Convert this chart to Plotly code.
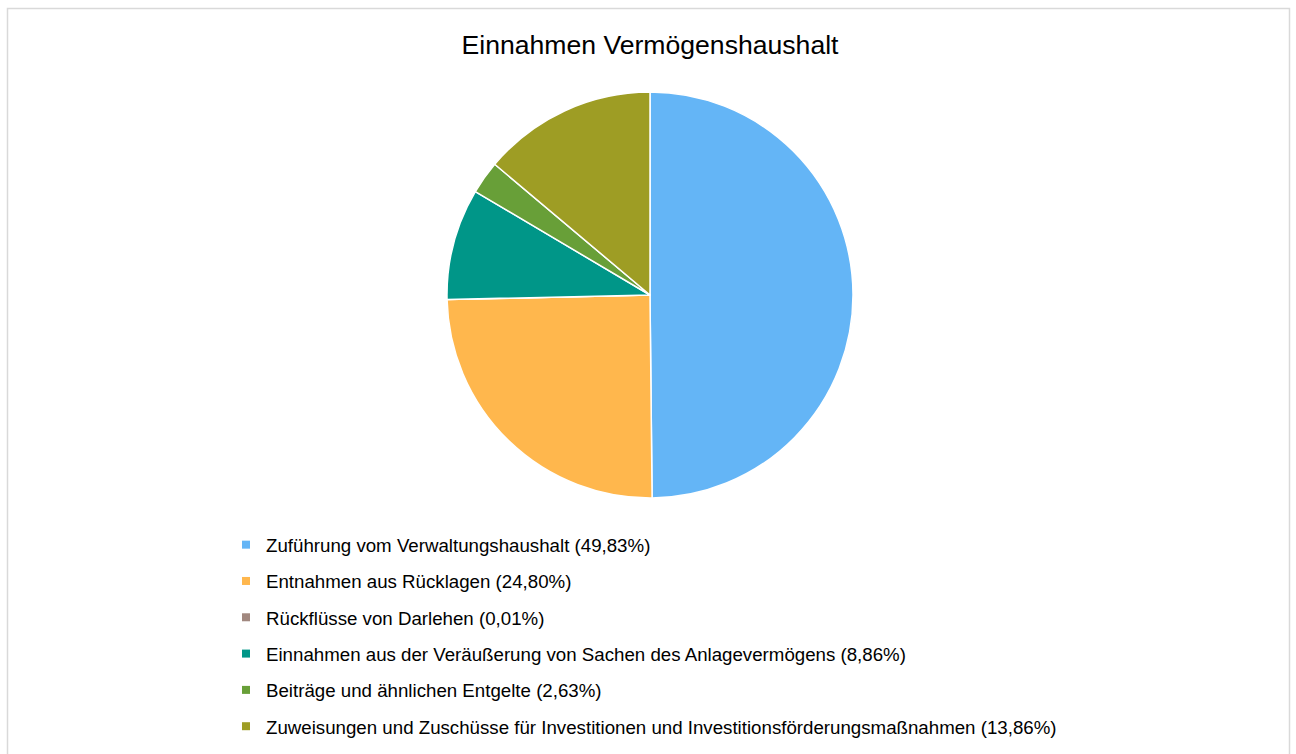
import plotly.graph_objects as go

title = "Einnahmen Vermögenshaushalt"
labels = [
    "Zuführung vom Verwaltungshaushalt",
    "Entnahmen aus Rücklagen",
    "Rückflüsse von Darlehen",
    "Einnahmen aus der Veräußerung von Sachen des Anlagevermögens",
    "Beiträge und ähnlichen Entgelte",
    "Zuweisungen und Zuschüsse für Investitionen und Investitionsförderungsmaßnahmen",
]
shares = [49.83, 24.80, 0.01, 8.86, 2.63, 13.86]
colors = ["#64B5F6", "#FFB74D", "#A1887F", "#009688", "#689F38", "#9E9D24"]

W, H = 1296, 754
FONT = "Liberation Sans, Arial, sans-serif"

def fmt(v):
    return f"{v:.2f}".replace(".", ",")

fig = go.Figure()
fig.add_trace(go.Pie(
    labels=labels,
    values=shares,
    marker=dict(colors=colors, line=dict(color="white", width=1.5)),
    sort=False,
    direction="clockwise",
    rotation=0,
    textinfo="none",
    hoverinfo="label+percent",
    showlegend=False,
    domain=dict(x=[447 / W, 853 / W], y=[1 - 498 / H, 1 - 92 / H]),
))

for i, (lab, v, c) in enumerate(zip(labels, shares, colors)):
    fig.add_trace(go.Scatter(
        x=[None], y=[None], mode="markers",
        marker=dict(symbol="square", size=8, color=c),
        name=f"{lab} ({fmt(v)}%)",
        legendgroup=f"g{i}",
        showlegend=True,
    ))

fig.update_layout(
    width=W, height=H,
    margin=dict(l=0, r=0, t=0, b=0),
    paper_bgcolor="white",
    plot_bgcolor="white",
    title=dict(text=title, x=650 / W, xanchor="center", y=1 - 45 / H, yanchor="middle",
               font=dict(family=FONT, size=26.6, color="#000000")),
    xaxis=dict(visible=False),
    yaxis=dict(visible=False),
    legend=dict(
        x=(266 - 40) / W, xanchor="left",
        y=1 - 526 / H, yanchor="top",
        font=dict(family=FONT, size=18.7, color="#000000"),
        tracegroupgap=9,
        bgcolor="rgba(0,0,0,0)",
        itemclick=False, itemdoubleclick=False,
    ),
    shapes=[dict(
        type="rect", xref="paper", yref="paper",
        x0=7.5 / W, x1=1289.5 / W, y0=-0.1, y1=1 - 8.5 / H,
        line=dict(color="#D9D9D9", width=1.5), fillcolor="rgba(0,0,0,0)", layer="below",
    )],
)

fig.write_html("out.html", config={"displayModeBar": False},
               post_script="document.body.style.margin='0';")
